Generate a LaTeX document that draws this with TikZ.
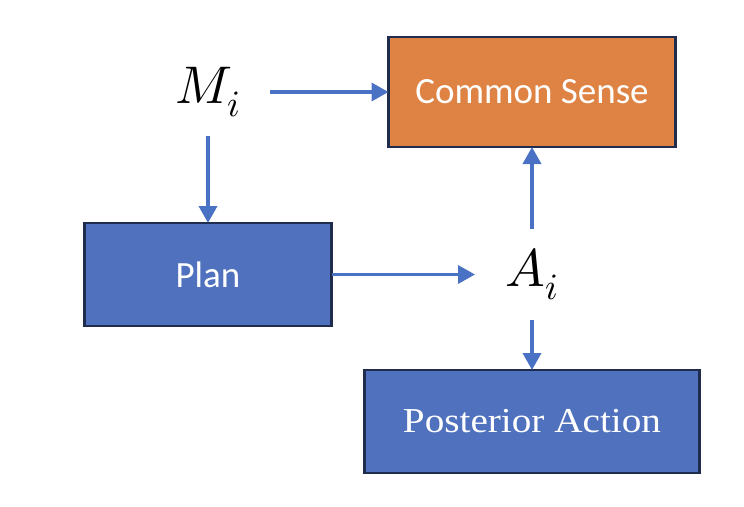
\documentclass[tikz,border=0pt]{standalone}
\usepackage{fontspec}
\usepackage{unicode-math}
\setmathfont{Latin Modern Math}
\newfontfamily\calfont{Carlito}
\newfontfamily\serfont[FakeStretch=1.12]{Liberation Serif}
\usetikzlibrary{arrows.meta}

\definecolor{boxblue}{HTML}{4F71BE}
\definecolor{boxorange}{HTML}{DF8344}
\definecolor{boxline}{HTML}{1F2C4E}
\definecolor{flowblue}{HTML}{4A72C4}

\begin{document}
\begin{tikzpicture}[x=1pt, y=-1pt,
    box/.style={draw=boxline, line width=2.5pt, text=white, inner sep=0pt, outer sep=0pt},
    sym/.style={inner sep=0pt, outer sep=0pt, font=\fontsize{53}{60}\selectfont},
    flow/.style={draw=flowblue, line width=3.5pt, -{Triangle[length=17pt, width=18pt]}}]
    \useasboundingbox (0,0) rectangle (744,506);

    % boxes
    \node[box, fill=boxorange, minimum width=287pt, minimum height=110pt,
        font=\calfont\fontsize{37}{44}\selectfont] (sense) at (532,92) {Common Sense};
    \node[box, fill=boxblue, minimum width=247pt, minimum height=103pt,
        font=\calfont\fontsize{37}{44}\selectfont] (plan) at (208,274.5) {Plan};
    \node[box, fill=boxblue, minimum width=335pt, minimum height=103pt,
        font=\serfont\fontsize{35}{42}\selectfont] (post) at (532,421.5) {Posterior Action};

    % symbols
    \node[sym, minimum width=124pt, minimum height=88pt] (mi) at (208,92) {$M_i$};
    \node[sym, minimum width=114pt, minimum height=91pt] (ai) at (532,274.5) {$A_i$};

    % arrows
    \draw[flow] (mi) -- (sense);
    \draw[flow] (mi) -- (plan);
    \draw[flow] (plan) -- (ai);
    \draw[flow] (ai) -- (sense);
    \draw[flow] (ai) -- (post);
\end{tikzpicture}
\end{document}
